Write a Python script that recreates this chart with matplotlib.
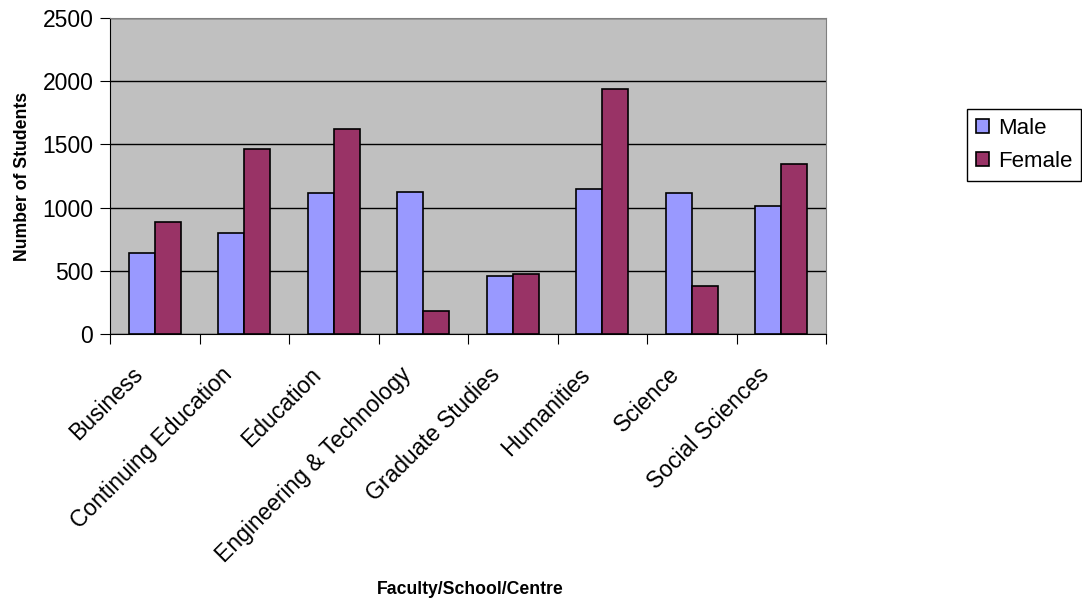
import matplotlib.pyplot as plt
import matplotlib.transforms as mtransforms
import numpy as np

plt.rcParams['font.family'] = ['Liberation Sans', 'DejaVu Sans']

faculties = ['Business', 'Continuing Education', 'Education', 'Engineering & Technology',
             'Graduate Studies', 'Humanities', 'Science', 'Social Sciences']
male = [642, 798, 1114, 1124, 458, 1151, 1114, 1009]
female = [890, 1464, 1622, 184, 472, 1935, 379, 1348]
yticks = [0, 500, 1000, 1500, 2000, 2500]

fig = plt.figure(figsize=(10.82, 6.05), dpi=100)
ax = fig.add_axes([110 / 1082, 1 - 334 / 605, 716 / 1082, 316 / 605])
ax.set_facecolor('#C0C0C0')

x = np.arange(len(faculties))
w = 0.29
ax.bar(x - w / 2, male, w, color='#9999FF', edgecolor='black', linewidth=1.2, label='Male', zorder=3)
ax.bar(x + w / 2, female, w, color='#993366', edgecolor='black', linewidth=1.2, label='Female', zorder=3)

ax.set_ylim(0, 2500)
ax.set_yticks(yticks)
ax.set_yticklabels([str(v) for v in yticks], fontsize=16.5)
ax.yaxis.grid(True, color='black', linewidth=1)
ax.set_axisbelow(True)

ax.set_xlim(-0.5, len(faculties) - 0.5)
ax.set_xticks(np.arange(len(faculties) + 1) - 0.5)
ax.set_xticklabels([])
ax.set_xticks(x, minor=True)
labels = ax.set_xticklabels(faculties, minor=True, rotation=45, ha='right', rotation_mode='anchor',
                            fontsize=16.5)
ax.tick_params(axis='x', which='minor', length=0, pad=10)
ax.tick_params(axis='both', which='major', direction='out', length=7, color='black', pad=5)

# shift category labels a bit left and down
shift = mtransforms.ScaledTranslation(-24 / 100, -15 / 100, fig.dpi_scale_trans)
for lab in labels:
    lab.set_transform(lab.get_transform() + shift)

for side in ['top', 'right']:
    ax.spines[side].set_color('#808080')
for side in ['left', 'bottom']:
    ax.spines[side].set_color('black')

ax.set_ylabel('Number of Students', fontsize=12.7, fontweight='bold', labelpad=8)
fig.text(470 / 1082, 1 - 590 / 605, 'Faculty/School/Centre', fontsize=12.7, fontweight='bold',
         ha='center', va='center')

leg = ax.legend(loc='center left', bbox_to_anchor=((967 - 110) / 716, (334 - 145) / 316), fontsize=16,
                frameon=True, fancybox=False, edgecolor='black', framealpha=1,
                handlelength=0.6, handleheight=0.6, handletextpad=0.4, borderpad=0.4,
                labelspacing=0.55, borderaxespad=0)
leg.get_frame().set_linewidth(1)

fig.savefig('out.png', dpi=100)
